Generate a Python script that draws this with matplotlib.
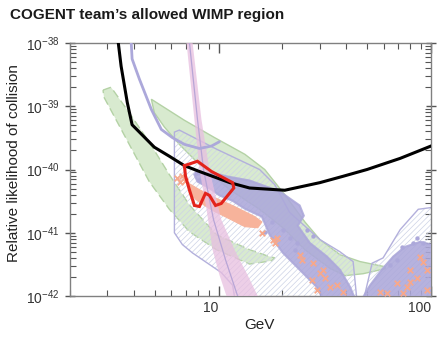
import numpy as np
import matplotlib
matplotlib.use("Agg")
import matplotlib.pyplot as plt
from matplotlib.ticker import FixedLocator, NullFormatter

plt.rcParams['font.family'] = ['Liberation Sans', 'DejaVu Sans']
plt.rcParams['mathtext.default'] = 'regular'
plt.rcParams['hatch.linewidth'] = 0.5

# --- exclusion limit (black) ---
limit_gev = [3.37, 3.48, 3.72, 3.92, 4.99, 5.87, 6.91, 8.13, 11.3, 14.0, 20.5, 30, 38.5, 50, 71.6, 100]
limit_xs = [1.05e-38, 4.3e-39, 1.15e-39, 5.1e-40, 2.25e-40, 1.62e-40, 1.15e-40, 9.3e-41,
            6.2e-41, 5.1e-41, 4.7e-41, 6.2e-41, 7.8e-41, 1.0e-40, 1.5e-40, 2.35e-40]

# --- lavender limit curve ---
curve_gev = [3.88, 3.92, 4.24, 4.83, 5.38, 6.06, 6.91, 8.13, 9.27, 10.1]
curve_xs = [1.05e-38, 5.6e-39, 2.7e-39, 8.9e-40, 4.3e-40, 3.2e-40, 2.5e-40, 2.15e-40, 2.35e-40, 2.75e-40]

# --- pink band ---
pink_left_gev = [7.06, 7.70, 8.13, 8.78, 9.37, 10.1, 10.9, 11.1]
pink_left_xs = [1.05e-38, 6.2e-40, 1.0e-40, 2.35e-41, 5.4e-42, 2.15e-42, 1.0e-42, 8e-43]
pink_right_gev = [7.54, 8.31, 9.06, 10.3, 11.9, 13.7, 15.3, 15.8]
pink_right_xs = [1.05e-38, 6.2e-40, 1.0e-40, 1.62e-41, 5.4e-42, 2.15e-42, 1.0e-42, 8e-43]
pink_mid_gev = [7.29, 7.96, 8.50, 9.47, 10.8, 12.3, 12.6]
pink_mid_xs = [1.05e-38, 6.2e-40, 1.0e-40, 1.62e-41, 3.7e-42, 1.0e-42, 8e-43]

# --- green band, upper (solid edge) ---
gb_gev = [4.83, 5.56, 6.91, 9.57, 13.3, 16.5, 20.5, 25.5, 30, 37.3, 46.4, 60.8,
          60.8, 47.9, 39.4, 33.4, 25.5, 20.1, 15.6, 11.3, 8.13, 6.54, 5.56, 4.99]
gb_xs = [1.29e-39, 9.55e-40, 6.0e-40, 3.2e-40, 1.74e-40, 1.0e-40, 4.0e-41, 1.48e-41, 7.8e-42, 4.5e-42, 3.5e-42, 2.9e-42,
         2.7e-42, 2.25e-42, 2.1e-42, 2.75e-42, 5.4e-42, 1.2e-41, 2.35e-41, 4.8e-41, 1.2e-40, 2.5e-40, 4.7e-40, 7.9e-40]

# --- green band, lower (dashed edge) ---
ga_gev = [2.86, 3.12, 3.80, 4.72, 5.87, 7.29, 9.78, 14.0, 17.0, 18.4,
          17.8, 14.0, 9.78, 7.29, 5.87, 4.72, 3.80, 2.89]
ga_xs = [1.8e-39, 2.0e-39, 7.9e-40, 2.7e-40, 8.3e-41, 2.75e-41, 9.3e-42, 5.4e-42, 4.3e-42, 4.0e-42,
         3.6e-42, 3.2e-42, 5.4e-42, 1.04e-41, 2.35e-41, 6.45e-41, 2.5e-40, 1.39e-39]

# --- hatched region ---
hatch_gev = [6.20, 6.54, 9.78, 15.6, 18.4, 21.6, 30, 37.3, 43.0, 44.9, 47.9, 52.8, 59.5, 71.6, 87.1, 100, 110,
             110, 12.0, 11.65, 10.3, 7.54, 6.76, 6.20]
hatch_xs = [3.9e-40, 4.2e-40, 2.1e-40, 1.0e-40, 5.75e-41, 2.1e-41, 7.8e-42, 5.0e-42, 3.5e-42, 8e-43, 8e-43, 3.3e-42,
            4.0e-42, 1.12e-41, 2.35e-41, 2.5e-41, 2.5e-41,
            8e-43, 8e-43, 1.48e-42, 2.35e-42, 4.8e-42, 6.5e-42, 1.0e-41]

# --- dense point clouds ---
cloud_gev = [7.70, 9.37, 10.9, 14.0, 19.4, 24.1, 25.2, 23.6, 26.9, 32.4, 37.3, 41.6, 43.9,
             31.0, 29.0, 24.1, 20.1, 17.4, 16.0, 13.3, 11.65, 10.1, 9.27, 8.59, 7.96]
cloud_xs = [8.3e-41, 8.9e-41, 7.8e-41, 6.7e-41, 4.5e-41, 2.7e-41, 1.86e-41, 1.29e-41, 6.9e-42, 4.2e-42, 2.6e-42,
            1.39e-42, 9e-43,
            9e-43, 1.39e-42, 2.6e-42, 4.8e-42, 9.3e-42, 1.8e-41, 2.4e-41, 3.2e-41, 3.9e-41, 4.8e-41, 5.6e-41, 6.45e-41]
cloud2_gev = [47.4, 51.7, 57.6, 66.4, 75.6, 89, 100, 110, 110]
cloud2_xs = [9e-43, 1.48e-42, 2.4e-42, 4.2e-42, 6.0e-42, 7.2e-42, 6.5e-42, 6.5e-42, 9e-43]
dots_gev = [7.87, 8.05, 16.5, 20.1, 21.6, 23.4, 22.8, 73.3, 82.5, 91.9, 86.1, 69.3, 64.2, 17.8, 26.0, 27.8]
dots_xs = [8.9e-41, 6.9e-41, 1.04e-41, 1.12e-41, 8.3e-42, 6.9e-42, 5.4e-42, 6.0e-42, 6.9e-42, 6.9e-42,
           8.3e-42, 3.7e-42, 3.1e-42, 1.48e-41, 1.1e-41, 8.9e-42]

salmon_gev = [7.14, 8.13, 9.57, 11.9, 14.8, 16.0, 15.3, 13.3, 11.3, 9.27, 7.96, 7.29]
salmon_xs = [6.2e-41, 4.8e-41, 3.6e-41, 2.6e-41, 1.8e-41, 1.48e-41, 1.2e-41, 1.25e-41, 1.65e-41, 2.3e-41, 3.2e-41, 4.2e-41]
cross_gev = [6.40, 6.76, 6.99, 6.61, 16.0, 18.0, 18.8, 18.4, 24.1, 24.7, 27.5, 27.8, 29.0, 30.0, 31.0, 31.7,
             33.4, 36.1, 38.5, 57.6, 62.2, 69.3, 74.0, 77.3, 79.8, 86.1, 89, 91.9, 96.0, 96.0, 79.8]
cross_xs = [7.4e-41, 7.9e-41, 6.7e-41, 6.45e-41, 1.0e-41, 7.8e-42, 8.3e-42, 6.9e-42, 4.5e-42, 3.7e-42, 1.78e-42,
            3.3e-42, 1.26e-42, 2.35e-42, 2.6e-42, 1.93e-42, 1.39e-42, 1.48e-42, 1.16e-42, 1.16e-42, 1.12e-42,
            1.6e-42, 1.12e-42, 1.39e-42, 2.6e-42, 1.93e-42, 4.2e-42, 3.5e-42, 2.6e-42, 1.26e-42, 1.67e-42]

# --- CoGeNT contour (red) ---
red_gev = [6.91, 7.96, 9.27, 11.65, 11.8, 10.3, 9.68, 9.06, 8.68, 8.13, 7.70, 7.29, 6.99, 6.91]
red_xs = [1.15e-40, 1.35e-40, 9.3e-41, 6.2e-41, 5.1e-41, 2.9e-41, 2.7e-41, 3.9e-41, 4.2e-41, 2.6e-41,
          2.7e-41, 4.8e-41, 7.9e-41, 1.15e-40]

lavender = '#aca8da'
green_fill = '#d8eacf'
green_edge = '#b4d2a5'

fig = plt.figure(figsize=(4.45, 3.4), dpi=100)
ax = fig.add_axes([70 / 445, 1 - 296 / 340, 361 / 445, 253 / 340])
ax.set_xscale('log')
ax.set_yscale('log')

ax.fill(ga_gev, ga_xs, facecolor=green_fill, edgecolor=green_edge, lw=1, ls=(0, (6, 3)), zorder=1)
ax.fill(gb_gev, gb_xs, facecolor=green_fill, edgecolor=green_edge, lw=1, zorder=1)

ax.fill(hatch_gev, hatch_xs, facecolor='none', edgecolor='#cdd3e6', hatch='//////', lw=0, zorder=2)
ax.fill(hatch_gev, hatch_xs, facecolor='none', edgecolor='#b3b0dc', lw=1, zorder=2.1)

ax.fill(cloud_gev, cloud_xs, facecolor=lavender, edgecolor=lavender, lw=1.5, alpha=0.88, zorder=3)
ax.fill(cloud2_gev, cloud2_xs, facecolor=lavender, edgecolor=lavender, lw=1.5, alpha=0.88, zorder=3)
ax.scatter(dots_gev, dots_xs, s=10, color=lavender, lw=0, zorder=3)
ax.fill(salmon_gev, salmon_xs, facecolor='#f7b39b', edgecolor='#f7b39b', lw=0.8, zorder=3.2)
ax.scatter(cross_gev, cross_xs, s=16, marker='x', color='#f6a88c', lw=1.3, zorder=3.3)

pink_gev = pink_left_gev + pink_right_gev[::-1]
pink_xs = pink_left_xs + pink_right_xs[::-1]
ax.fill(pink_gev, pink_xs, facecolor='#e8bfe0', edgecolor='none', alpha=0.75, zorder=4)
ax.plot(pink_mid_gev, pink_mid_xs, color='#b7a5d6', lw=0.9, zorder=4.1)

ax.plot(curve_gev, curve_xs, color=lavender, lw=2, solid_capstyle='round', zorder=5)
ax.plot(limit_gev, limit_xs, color='black', lw=2.2, zorder=6)
ax.plot(red_gev, red_xs, color='#e3231b', lw=2.2, solid_joinstyle='miter', zorder=7)

ax.set_xlim(2, 100)
ax.set_ylim(1e-42, 1e-38)

for s in ax.spines.values():
    s.set_color('#808080')
    s.set_linewidth(1)

ax.xaxis.set_major_locator(FixedLocator([10, 100]))
ax.xaxis.set_minor_locator(FixedLocator([2, 3, 4, 5, 6, 7, 8, 9, 20, 30, 40, 50, 60, 70, 80, 90]))
ax.set_xticklabels(['10', '100'])
ax.xaxis.set_minor_formatter(NullFormatter())
ax.yaxis.set_major_locator(FixedLocator([1e-42, 1e-41, 1e-40, 1e-39, 1e-38]))
ax.yaxis.set_minor_locator(FixedLocator([m * 10.0 ** e for e in range(-42, -38) for m in range(2, 10)]))
ax.set_yticklabels(['$10^{-42}$', '$10^{-41}$', '$10^{-40}$', '$10^{-39}$', '$10^{-38}$'])
ax.yaxis.set_minor_formatter(NullFormatter())

ax.tick_params(which='both', direction='in', top=True, right=True, color='#555555',
               labelcolor='#333333', labelsize=10)
ax.tick_params(which='major', length=7, width=1)
ax.tick_params(which='minor', length=4, width=0.8)
ax.tick_params(axis='y', which='major', direction='inout', pad=4)
for lbl in ax.get_xticklabels():
    lbl.set_horizontalalignment('right')

fig.text(0.022, 0.955, "COGENT team\u2019s allowed WIMP region", fontsize=11, fontweight='bold',
         va='center', ha='left', color='#1a1a1a')
fig.text(0.031, 0.52, "Relative likelihood of collision", rotation=90, fontsize=11,
         va='center', ha='center', color='#222222')
fig.text(0.584, 0.044, "GeV", fontsize=11, va='center', ha='center', color='#222222')

fig.savefig('out.png', dpi=100)
